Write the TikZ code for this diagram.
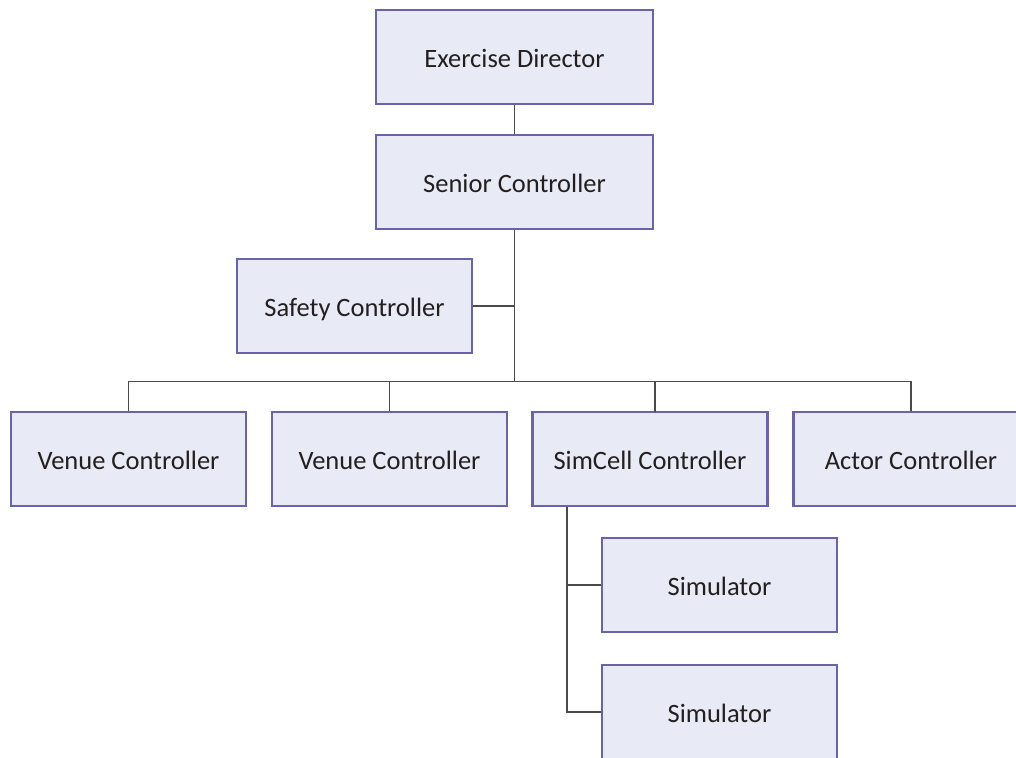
\documentclass[tikz,border=0pt]{standalone}
\usepackage{fontspec}
\setmainfont{Carlito}
\definecolor{boxfill}{HTML}{E8EAF5}
\definecolor{boxline}{HTML}{6A62AA}
\definecolor{connline}{HTML}{4A4A4A}
\definecolor{txt}{HTML}{231F20}
\tikzset{
  box/.style={draw=boxline, fill=boxfill, line width=2.2pt, minimum width=235pt, minimum height=94pt,
    inner sep=0pt, text=txt, text height=24.5pt, text depth=3.3pt,
    font=\fontsize{26.5}{31}\selectfont},
  widebox/.style={box, minimum width=277pt},
  conn/.style={draw=connline, line width=1.4pt}
}
\begin{document}
\begin{tikzpicture}[x=1pt,y=-1pt]
\clip (0,0) rectangle (1016,757);
\fill[white] (0,0) rectangle (1016,757);
\node[widebox] (ed) at (514.5,57) {Exercise Director};
\node[widebox] (sc) at (514.5,182) {Senior Controller};
\node[box] (saf) at (354.5,306) {Safety Controller};
\node[box] (v1) at (128.5,459) {Venue Controller};
\node[box] (v2) at (389.5,459) {Venue Controller};
\node[box] (simc) at (650,459) {SimCell Controller};
\node[box] (act) at (911,459) {Actor Controller};
\node[box] (s1) at (719.5,585) {Simulator};
\node[box] (s2) at (719.5,712) {Simulator};
\coordinate (bus) at (514.5,381.7);
\coordinate (simdrop) at (655,412);
\coordinate (simstem) at (567,507);
\draw[conn] (ed.south) -- (sc.north);
\draw[conn] (sc.south) -- (bus);
\draw[conn] (saf.east) -- (saf.east -| sc.south);
\draw[conn] (v1.north) |- (bus) -| (act.north);
\draw[conn] (v2.north) -- (v2.north |- bus);
\draw[conn] (simdrop) -- (simdrop |- bus);
\draw[conn] (simstem) |- (s1.west);
\draw[conn] (simstem) |- (s2.west);
\end{tikzpicture}
\end{document}
